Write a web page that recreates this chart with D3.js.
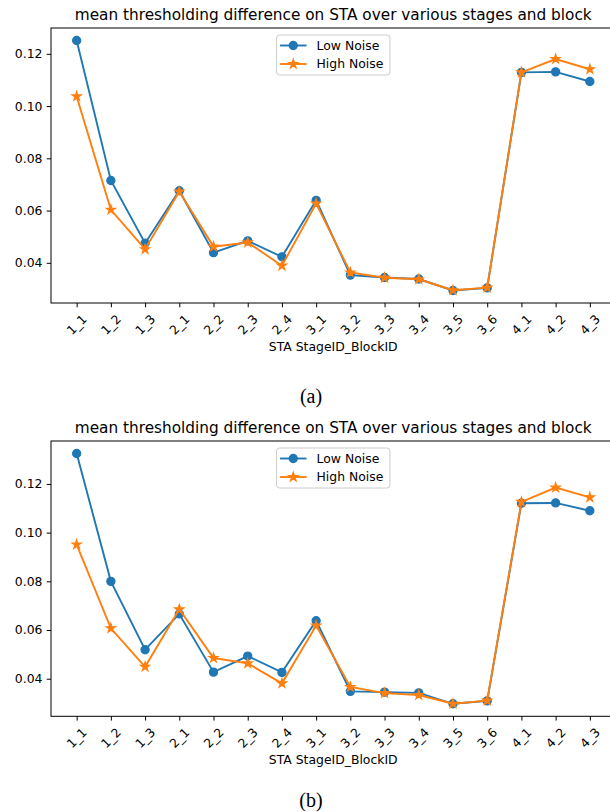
<!DOCTYPE html>
<html lang="en">
<head>
    <meta charset="UTF-8">
    <title>mean thresholding difference</title>
    <style>
        body { margin: 0; background: #fff; }
        text { font-family: "DejaVu Sans", sans-serif; fill: #000; }
        .caption { font-family: "Liberation Serif", "Times New Roman", serif; }
    </style>
</head>
<script src="https://cdn.jsdelivr.net/npm/d3@7"></script>
<body>
<script>
    // values
    var categories = ["1_1", "1_2", "1_3", "2_1", "2_2", "2_3", "2_4", "3_1", "3_2",
        "3_3", "3_4", "3_5", "3_6", "4_1", "4_2", "4_3"];
    var lowNoiseA = [0.1251, 0.0715, 0.0475, 0.0676, 0.0439, 0.0484, 0.0423, 0.0639, 0.0353,
        0.0344, 0.0338, 0.0294, 0.0304, 0.1129, 0.1131, 0.1094];
    var highNoiseA = [0.1037, 0.0603, 0.0452, 0.0673, 0.0462, 0.0478, 0.0389, 0.0627, 0.0363,
        0.0343, 0.0337, 0.0295, 0.0305, 0.1129, 0.1180, 0.1141];
    var lowNoiseB = [0.1325, 0.0800, 0.0519, 0.0666, 0.0427, 0.0493, 0.0426, 0.0638, 0.0348,
        0.0345, 0.0342, 0.0297, 0.0309, 0.1121, 0.1122, 0.1090];
    var highNoiseB = [0.0951, 0.0607, 0.0449, 0.0685, 0.0485, 0.0463, 0.0381, 0.0618, 0.0366,
        0.0341, 0.0333, 0.0297, 0.0310, 0.1126, 0.1185, 0.1145];
    var yTicks = [0.04, 0.06, 0.08, 0.10, 0.12];
    var seriesNames = ["Low Noise", "High Noise"];
    var title = "mean thresholding difference on STA over various stages and block";
    var xLabel = "STA StageID_BlockID";

    var blue = "#1f77b4", orange = "#ff7f0e";
    var left = 51, right = 615.5;   // right spine falls just outside the picture

    var svg = d3.select("body")
        .append("svg")
        .attr("width", 610)
        .attr("height", 812);

    function drawPanel(low, high, top, bottom, caption, capY) {
        var g = svg.append("g");

        var all = low.concat(high);
        var lo = d3.min(all), hi = d3.max(all), pad = (hi - lo) * 0.05;

        var xScale = d3.scalePoint().domain(categories).range([left, right]).padding(0.75);
        var yScale = d3.scaleLinear().domain([lo - pad, hi + pad]).range([bottom, top]);

        // y axis
        var yAxis = g.append("g")
            .attr("transform", "translate(" + left + ",0)")
            .call(d3.axisLeft(yScale).tickValues(yTicks).tickFormat(d3.format(".2f"))
                .tickSize(4.3).tickPadding(4.3));
        yAxis.select(".domain").remove();
        yAxis.selectAll("line").attr("stroke", "#000").attr("stroke-width", 1);
        yAxis.selectAll("text").attr("font-size", "12.4px").attr("font-family", "DejaVu Sans");

        // x axis
        var xAxis = g.append("g")
            .attr("transform", "translate(0," + bottom + ")")
            .call(d3.axisBottom(xScale).tickSize(4.3).tickFormat(""));
        xAxis.select(".domain").remove();
        xAxis.selectAll("line").attr("stroke", "#000").attr("stroke-width", 1);

        g.selectAll(".xlab")
            .data(categories)
            .enter().append("text")
            .attr("class", "xlab")
            .attr("font-size", "12.4px")
            .attr("text-anchor", "middle")
            .attr("dominant-baseline", "central")
            .attr("transform", function (d) {
                return "translate(" + xScale(d) + "," + (bottom + 21.5) + ") rotate(-45)";
            })
            .text(function (d) { return d; });

        // frame
        g.append("rect")
            .attr("x", left).attr("y", top)
            .attr("width", right - left).attr("height", bottom - top)
            .attr("fill", "none").attr("stroke", "#000").attr("stroke-width", 1);

        // lines and markers
        var line = d3.line()
            .x(function (d, i) { return xScale(categories[i]); })
            .y(function (d) { return yScale(d); });

        var circle = d3.symbol().type(d3.symbolCircle).size(52);
        var star = d3.symbol().type(d3.symbolStar).size(26);

        [[low, blue, circle], [high, orange, star]].forEach(function (s) {
            g.append("path")
                .datum(s[0])
                .attr("d", line)
                .attr("fill", "none")
                .attr("stroke", s[1])
                .attr("stroke-width", 1.9);
            g.selectAll(null)
                .data(s[0])
                .enter().append("path")
                .attr("transform", function (d, i) {
                    return "translate(" + xScale(categories[i]) + "," + yScale(d) + ")";
                })
                .attr("d", s[2])
                .attr("fill", s[1])
                .attr("stroke", s[1])
                .attr("stroke-width", 1.2);
        });

        // title and x label
        var mid = (left + right) / 2;
        g.append("text")
            .attr("x", mid).attr("y", top - 7.7)
            .attr("text-anchor", "middle")
            .attr("font-size", "15.3px")
            .text(title);
        g.append("text")
            .attr("x", mid).attr("y", bottom + 48)
            .attr("text-anchor", "middle")
            .attr("font-size", "12.4px")
            .text(xLabel);

        // legend, upper center
        var lg = g.append("g").attr("transform", "translate(" + (mid - 56.7) + "," + (top + 7) + ")");
        lg.append("rect")
            .attr("width", 113.4).attr("height", 40)
            .attr("rx", 3)
            .attr("fill", "#fff").attr("fill-opacity", 0.8)
            .attr("stroke", "#ccc").attr("stroke-width", 1);
        [[blue, circle], [orange, star]].forEach(function (s, i) {
            var yy = 10.5 + i * 18.5;
            lg.append("line")
                .attr("x1", 3.5).attr("x2", 30).attr("y1", yy).attr("y2", yy)
                .attr("stroke", s[0]).attr("stroke-width", 1.9);
            lg.append("path")
                .attr("transform", "translate(16.7," + yy + ")")
                .attr("d", s[1])
                .attr("fill", s[0]).attr("stroke", s[0]).attr("stroke-width", 1.2);
            lg.append("text")
                .attr("x", 40).attr("y", yy)
                .attr("dy", "0.36em")
                .attr("font-size", "12.4px")
                .text(seriesNames[i]);
        });

        svg.append("text")
            .attr("class", "caption")
            .attr("x", 311).attr("y", capY)
            .attr("text-anchor", "middle")
            .attr("font-size", "20px")
            .text(caption);
    }

    drawPanel(lowNoiseA, highNoiseA, 28, 303, "(a)", 402.5);
    drawPanel(lowNoiseB, highNoiseB, 441, 716.3, "(b)", 807);
</script>
</body>
</html>
